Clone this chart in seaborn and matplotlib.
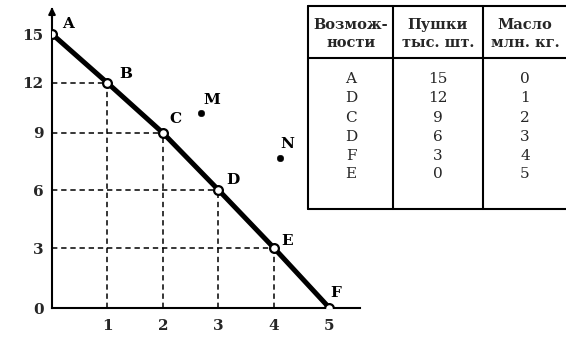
import matplotlib
matplotlib.use("Agg")
import matplotlib.pyplot as plt
import seaborn as sns
import pandas as pd
import numpy as np

# ---- data ----
point_labels = ["A", "B", "C", "D", "E", "F"]
butter = [0, 1, 2, 3, 4, 5]          # x: Масло, млн. кг
guns = [15, 12, 9, 6, 3, 0]          # y: Пушки, тыс. шт.
extra_labels = ["M", "N"]
extra_x = [2.68, 4.1]
extra_y = [10.2, 7.7]
x_ticks = [1, 2, 3, 4, 5]
y_ticks = [0, 3, 6, 9, 12, 15]

table_header = ["Возмож-\nности", "Пушки\nтыс. шт.", "Масло\nмлн. кг."]
table_names = ["A", "D", "C", "D", "F", "E"]
table_guns = ["15", "12", "9", "6", "3", "0"]
table_butter = ["0", "1", "2", "3", "4", "5"]

sns.set_style("white")
plt.rcParams["font.family"] = ["DejaVu Serif"]

W, H = 566, 347
fig = plt.figure(figsize=(W / 100, H / 100), dpi=100)

# main axes: origin at pixel (52, 308)
x0, y0 = 52, 308
ax_h = 302
ax = fig.add_axes([x0 / W, (H - y0) / H, 308 / W, ax_h / H])
ax.set_xlim(0, 5.55)

# schematic (hand-drawn) vertical spacing of the original figure
knots_v = np.array([-10, 0, 3, 6, 9, 12, 15, 25], dtype=float)
knots_p = np.array([-200, 0, 60, 118, 175, 225, 274, 439], dtype=float)
ax.set_yscale("function",
              functions=(lambda v: np.interp(v, knots_v, knots_p),
                         lambda p: np.interp(p, knots_p, knots_v)))
ytop = 15 + (ax_h - 274) / 16.5
ax.set_ylim(0, ytop)
ax.patch.set_alpha(0)

df = pd.DataFrame({"x": butter, "y": guns, "lab": point_labels})

# dashed guides
for xi, yi in zip(butter, guns):
    if xi == 0 or yi == 0:
        continue
    ax.plot([0, xi], [yi, yi], ls=(0, (3.5, 2.5)), color="black", lw=1.1, zorder=1)
    ax.plot([xi, xi], [0, yi], ls=(0, (3.5, 2.5)), color="black", lw=1.1, zorder=1)

sns.lineplot(data=df, x="x", y="y", ax=ax, color="black", lw=3.6, sort=False,
             zorder=2, legend=False)
sns.scatterplot(data=df, x="x", y="y", ax=ax, marker="o", s=40, facecolor="white",
                edgecolor="black", linewidth=1.6, zorder=3, legend=False)
ex = pd.DataFrame({"x": extra_x, "y": extra_y})
sns.scatterplot(data=ex, x="x", y="y", ax=ax, marker="o", s=22, color="black",
                edgecolor="black", zorder=3, legend=False)

lab_font = dict(fontsize=11, fontweight="bold", color="black")
offsets = {"A": (16, 10), "B": (18, 9), "C": (12, 14), "D": (14, 10),
           "E": (13, 7), "F": (6, 15), "M": (11, 13), "N": (8, 14)}
for lab, xi, yi in zip(point_labels + extra_labels, butter + extra_x,
                       guns + extra_y):
    ax.annotate(lab, (xi, yi), xytext=offsets[lab], textcoords="offset pixels",
                ha="center", va="center", annotation_clip=False, **lab_font)

sns.despine(ax=ax, top=True, right=True)
for s in ["left", "bottom"]:
    ax.spines[s].set_linewidth(1.5)
    ax.spines[s].set_color("black")
ax.spines["left"].set_bounds(0, ytop - 0.2)
ax.annotate("", xy=(0, ytop + 0.1), xytext=(0, ytop - 0.9),
            arrowprops=dict(arrowstyle="-|>", color="black", lw=1.5,
                            mutation_scale=10),
            annotation_clip=False)

ax.set_xticks(x_ticks)
ax.set_yticks(y_ticks)
ax.set_xticklabels([str(t) for t in x_ticks])
ax.set_yticklabels([str(t) for t in y_ticks])
ax.yaxis.set_minor_locator(matplotlib.ticker.NullLocator())
ax.tick_params(axis="x", direction="inout", length=6, width=1, pad=5,
               labelsize=11)
ax.tick_params(axis="y", length=0, pad=6, labelsize=11)
for t in ax.get_xticklabels() + ax.get_yticklabels():
    t.set_fontweight("bold")
ax.set_xlabel("")
ax.set_ylabel("")

# ---- table in pixel coordinates ----
tax = fig.add_axes([0, 0, 1, 1])
tax.set_xlim(0, W)
tax.set_ylim(H, 0)
tax.axis("off")
tax.patch.set_alpha(0)

tl, tr, tt, tb = 308, 570, 6, 209
hsep = 58
cols = [308, 393, 483]
lw = 1.5
tax.plot([tl, tr], [tt, tt], color="black", lw=lw)
tax.plot([tl, tr], [tb, tb], color="black", lw=lw)
tax.plot([tl, tr], [hsep, hsep], color="black", lw=lw)
for cx in cols:
    tax.plot([cx, cx], [tt, tb], color="black", lw=lw)

centers = [351, 438, 525]
for cx, h in zip(centers, table_header):
    tax.text(cx, 34, h, ha="center", va="center", fontsize=10.5,
             fontweight="bold", linespacing=1.45)
row_y = [79, 98, 118, 137, 156, 174]
for ry, a, b, c in zip(row_y, table_names, table_guns, table_butter):
    tax.text(centers[0], ry, a, ha="center", va="center", fontsize=11)
    tax.text(centers[1], ry, b, ha="center", va="center", fontsize=11)
    tax.text(centers[2], ry, c, ha="center", va="center", fontsize=11)

fig.savefig("out.png", dpi=100)
